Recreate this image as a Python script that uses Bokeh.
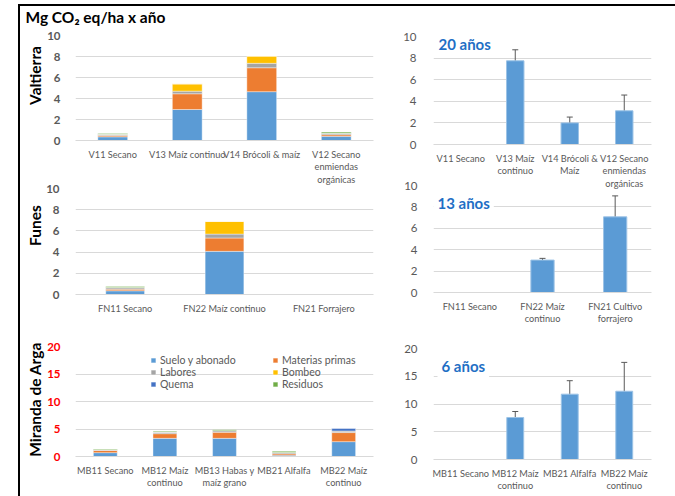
from math import pi

from bokeh.embed import file_html
from bokeh.layouts import column, row
from bokeh.models import (ColumnDataSource, FactorRange, Label, Legend, LegendItem,
                          Range1d, SingleIntervalTicker, Spacer, TeeHead, Whisker)
from bokeh.plotting import figure
from bokeh.resources import INLINE

FONT = "Lato"
GRID = "#d9d9d9"
TXT = "#595959"
BAR = "#5b9bd5"
YEARS = "#1f6fc5"

# emission sources (stack order, bottom to top)
SOURCES = ["Suelo y abonado", "Materias primas", "Labores", "Bombeo", "Quema", "Residuos"]
KEYS = ["suelo", "materias", "labores", "bombeo", "quema", "residuos"]
COLORS = ["#5b9bd5", "#ed7d31", "#a5a5a5", "#ffc000", "#4472c4", "#70ad47"]

# ---- Valtierra: emissions by source (Mg CO2 eq/ha x año)
v_cats = ["V11 Secano", "V13 Maíz continuo", "V14 Brócoli & maíz", "V12 Secano\nenmiendas\norgánicas"]
v_suelo = [0.35, 2.95, 4.65, 0.40]
v_materias = [0.12, 1.50, 2.28, 0.15]
v_labores = [0.12, 0.25, 0.42, 0.15]
v_bombeo = [0.0, 0.70, 0.70, 0.0]
v_quema = [0.0, 0.0, 0.0, 0.0]
v_residuos = [0.08, 0.0, 0.0, 0.10]

# Valtierra: soil carbon, 20 años
vs_cats = ["V11 Secano", "V13 Maíz\ncontinuo", "V14 Brócoli &\nMaíz", "V12 Secano\nenmiendas\norgánicas"]
vs_with_data = ["V13 Maíz\ncontinuo", "V14 Brócoli &\nMaíz", "V12 Secano\nenmiendas\norgánicas"]
vs_value = [7.75, 2.0, 3.12]
vs_low = [6.75, 1.52, 1.70]
vs_high = [8.77, 2.54, 4.58]

# ---- Funes
f_cats = ["FN11 Secano", "FN22 Maíz continuo", "FN21 Forrajero"]
f_suelo = [0.35, 4.07, 0.0]
f_materias = [0.15, 1.26, 0.0]
f_labores = [0.15, 0.37, 0.0]
f_bombeo = [0.0, 1.20, 0.0]
f_quema = [0.0, 0.0, 0.0]
f_residuos = [0.10, 0.0, 0.0]

# Funes: soil carbon, 13 años
fs_cats = ["FN11 Secano", "FN22 Maíz\ncontinuo", "FN21 Cultivo\nforrajero"]
fs_with_data = ["FN22 Maíz\ncontinuo", "FN21 Cultivo\nforrajero"]
fs_value = [3.03, 7.07]
fs_low = [2.94, 5.16]
fs_high = [3.19, 9.03]

# ---- Miranda de Arga
m_cats = ["MB11 Secano", "MB12 Maíz\ncontinuo", "MB13 Habas y\nmaíz grano", "MB21 Alfalfa", "MB22 Maíz\ncontinuo"]
m_suelo = [0.70, 3.30, 3.30, 0.25, 2.70]
m_materias = [0.40, 0.85, 1.10, 0.25, 1.65]
m_labores = [0.15, 0.30, 0.30, 0.25, 0.30]
m_bombeo = [0.0, 0.0, 0.0, 0.0, 0.0]
m_quema = [0.0, 0.0, 0.0, 0.0, 0.50]
m_residuos = [0.10, 0.15, 0.15, 0.20, 0.0]

# Miranda de Arga: soil carbon, 6 años
ms_cats = ["MB11 Secano", "MB12 Maíz\ncontinuo", "MB21 Alfalfa", "MB22 Maíz\ncontinuo"]
ms_with_data = ["MB12 Maíz\ncontinuo", "MB21 Alfalfa", "MB22 Maíz\ncontinuo"]
ms_value = [7.57, 11.77, 12.3]
ms_low = [6.67, 9.25, 7.2]
ms_high = [8.65, 14.2, 17.5]


def base_fig(cats, ymax, step, width, height, left, right, top, bottom,
             tick_color=TXT, tick_bold=False, ytick_standoff=10, lift=0):
    p = figure(x_range=FactorRange(factors=cats), y_range=Range1d(0, ymax),
               width=width, height=height, min_border_left=left, min_border_right=right,
               min_border_top=top, min_border_bottom=bottom,
               toolbar_location=None, output_backend="svg")
    p.outline_line_color = None
    p.xgrid.grid_line_color = None
    p.ygrid.grid_line_color = GRID
    p.ygrid.grid_line_width = 1
    # transparent, so neighbouring panels that share a band stay visible
    p.border_fill_color = None
    p.background_fill_color = None
    if lift:
        # pull the chart up so that it shares a band with the one above it
        p.styles = {"margin-top": f"-{lift}px"}

    xa = p.xaxis[0]
    xa.axis_line_color = GRID
    xa.major_tick_line_color = None
    xa.minor_tick_line_color = None
    xa.major_label_text_font = FONT
    xa.major_label_text_font_size = "9.2px"
    xa.major_label_text_color = TXT
    xa.major_label_standoff = 2
    xa.major_label_text_line_height = 1.15

    ya = p.yaxis[0]
    ya.ticker = SingleIntervalTicker(interval=step)
    ya.axis_line_color = None
    ya.major_tick_line_color = None
    ya.minor_tick_line_color = None
    ya.major_label_text_font = FONT
    ya.major_label_text_font_size = "11.5px"
    ya.major_label_text_color = tick_color
    ya.major_label_text_font_style = "bold" if tick_bold else "normal"
    ya.major_label_standoff = ytick_standoff
    return p


def stacked(p, cats, cols, width):
    data = dict(cat=cats)
    data.update({k: v for k, v in zip(KEYS, cols)})
    src = ColumnDataSource(data)
    return p.vbar_stack(KEYS, x="cat", width=width, source=src,
                        fill_color=COLORS, line_color="white", line_width=0.5,
                        line_alpha=0.8)


def single(p, cats, vals, low, high, width):
    src = ColumnDataSource(dict(cat=cats, val=vals, low=low, high=high))
    p.vbar(x="cat", top="val", width=width, source=src,
           fill_color=BAR, line_color="#9cc3e6", line_width=1)
    w = Whisker(source=src, base="cat", upper="high", lower="low",
                line_color="#595959", line_width=1,
                upper_head=TeeHead(size=6, line_color="#595959", line_width=1),
                lower_head=TeeHead(size=6, line_color="#595959", line_width=1))
    p.add_layout(w)


def years(p, text, sx, y, pad):
    p.add_layout(Label(x=sx, y=y, x_units="screen", y_units="data", text=text,
                       text_font=FONT, text_font_style="bold", text_font_size="15px",
                       text_color=YEARS, text_align="left", text_baseline="middle",
                       background_fill_color="white" if pad else None,
                       padding=pad))


def blank(width, height):
    p = figure(width=width, height=height, x_range=Range1d(0, 1), y_range=Range1d(0, 1),
               x_axis_type=None, y_axis_type=None, min_border=0,
               toolbar_location=None, output_backend="svg")
    p.outline_line_color = None
    p.grid.visible = False
    return p


# ---- heading and row names
head = blank(380, 22)
head.add_layout(Label(x=5, y=12, x_units="screen", y_units="screen",
                      text="Mg CO₂ eq/ha x año", text_font=FONT, text_font_style="bold",
                      text_font_size="15.5px", text_color="black",
                      text_align="left", text_baseline="middle"))

names = blank(32, 468)
for txt, sy in [("Valtierra", 421), ("Funes", 271), ("Miranda de Arga", 97)]:
    names.add_layout(Label(x=14, y=sy, x_units="screen", y_units="screen", text=txt,
                           angle=pi / 2, text_font=FONT, text_font_style="bold",
                           text_font_size="15.5px", text_color="black",
                           text_align="center", text_baseline="middle"))

# ---- left column: emissions by source
p_v = base_fig(v_cats, 10, 2, 357, 168, 21, 13, 7, 56, tick_bold=True, ytick_standoff=9)
stacked(p_v, v_cats, [v_suelo, v_materias, v_labores, v_bombeo, v_quema, v_residuos], 0.4)

p_f = base_fig(f_cats, 10, 2, 357, 152, 30, 27, 10, 36, tick_bold=True,
               ytick_standoff=10, lift=18)
stacked(p_f, f_cats, [f_suelo, f_materias, f_labores, f_bombeo, f_quema, f_residuos], 0.39)

p_m = base_fig(m_cats, 20, 5, 357, 166, 28, 26, 16, 40, tick_color="#ff0000",
               tick_bold=True, ytick_standoff=9)
m_rs = stacked(p_m, m_cats, [m_suelo, m_materias, m_labores, m_bombeo, m_quema, m_residuos], 0.4)
legend = Legend(items=[LegendItem(label=s, renderers=[r]) for s, r in zip(SOURCES, m_rs)],
                orientation="horizontal", ncols=2, location=(75, 66),
                glyph_width=6, glyph_height=6, label_standoff=4, label_width=112,
                label_height=12, spacing=0, padding=0, margin=0,
                border_line_color=None, background_fill_alpha=0,
                label_text_font=FONT, label_text_font_size="10.5px",
                label_text_color=TXT)
p_m.add_layout(legend)

# ---- right column: soil carbon with error bars
p_vs = base_fig(vs_cats, 10, 2, 275, 194, 27, 8, 30, 56, ytick_standoff=11)
single(p_vs, vs_with_data, vs_value, vs_low, vs_high, 0.32)
years(p_vs, "20 años", 5, 9.35, 0)

p_fs = base_fig(fs_cats, 10, 2, 275, 152, 23, 24, 7, 38, ytick_standoff=10, lift=22)
single(p_fs, fs_with_data, fs_value, fs_low, fs_high, 0.32)
years(p_fs, "13 años", 0, 8.4, 4)

p_ms = base_fig(ms_cats, 20, 5, 275, 166, 22, 8, 18, 37, ytick_standoff=10)
single(p_ms, ms_with_data, ms_value, ms_low, ms_high, 0.31)
years(p_ms, "6 años", 4, 16.9, 4)

charts = column(p_v, p_f, p_m, spacing=0, styles={"margin-left": "-9px"})
left = column(head, row(names, charts, spacing=0), spacing=0)
right = column(p_vs, p_fs, p_ms, spacing=0)

frame_top = Spacer(width=657, height=2, styles={"background-color": "black"})
frame_left = Spacer(width=2, height=490, styles={"background-color": "black"})

page = column(
    Spacer(width=675, height=4),
    row(Spacer(width=18, height=2), frame_top, spacing=0),
    row(Spacer(width=18, height=490), frame_left, left, right, spacing=0),
    spacing=0,
)

open("out.html", "w").write(file_html(page, INLINE))
